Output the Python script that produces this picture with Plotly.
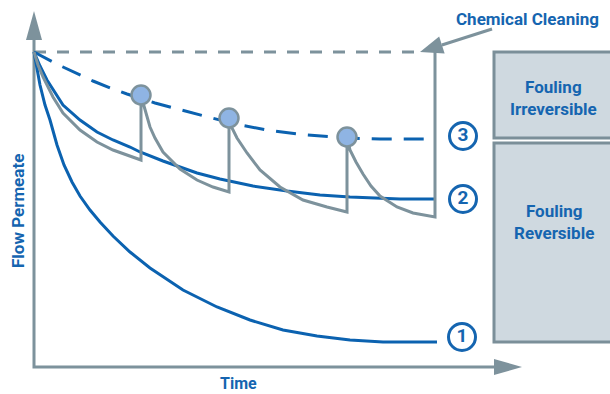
import plotly.graph_objects as go

# ---------------- data (time, flow) read from the schematic ----------------
# curve 1: constant flux without cleaning
t1 = [0, 6, 11, 16, 23, 30, 38, 46, 56, 66, 79, 96, 116, 149, 183, 216, 249, 283, 316, 349, 403]
f1 = [315, 282, 262, 247, 222, 202, 185, 171, 157, 145, 131, 115, 99, 77, 60, 47, 37, 31, 27, 25, 25]

# curve 2: envelope of backwash cycles
t2 = [0, 6, 13, 21, 29, 46, 63, 79, 96, 106, 129, 163, 186, 219, 253, 286, 316, 366, 401]
f2 = [315, 301, 287, 274, 262, 247, 235, 227, 220, 215, 206, 194, 188, 181, 176, 172, 170, 168, 168]

# curve 3 (dashed): irreversible fouling trend
t3 = [0, 9, 19, 29, 49, 59, 79, 93, 121, 143, 174, 206, 239, 273, 312, 346, 401]
f3 = [315, 310, 305, 300, 291, 286, 278, 273, 264, 258, 250, 242, 236, 232, 229, 228, 228]

# grey saw-tooth: filtration / backwash cycles, then chemical cleaning
tg = [0, 4, 9, 19, 29, 46, 63, 79, 107, 107, 110, 113, 116, 121, 129, 146, 163, 179, 195,
      195, 198, 203, 208, 213, 226, 246, 269, 293, 313, 313, 316, 322, 329, 337, 346, 363, 379, 401, 401]
fg = [315, 302, 290, 270, 254, 237, 225, 217, 207, 272, 261, 250, 240, 229, 215, 198, 187, 180, 175,
      249, 239, 229, 221, 214, 197, 180, 167, 160, 155, 230, 217, 205, 193, 181, 171, 160, 154, 150, 315]

# backwash peaks (circles)
t_peak = [107, 195, 313]
f_peak = [272, 249, 230]

# curve labels
label_text = ["1", "2", "3"]
label_t = [428, 429, 429]
label_f = [30, 168, 231]

initial_flow = 315
end_time = 401
box_texts = ["Fouling<br>Irreversible", "Fouling<br>Reversible"]
axis_titles = ["Time", "Flow Permeate"]
cleaning_text = "Chemical Cleaning"

# ---------------- styles ----------------
BLUE = "#0b62b0"
TXT = "#1565b0"
GREY = "#7d929c"
BOX_FILL = "#cfd9e0"
BOX_LINE = "#7b8f99"
FONT = "Roboto"
FS = 17

fig = go.Figure()

# axes (drawn as lines with arrowheads)
x_end, y_end = 460, 327
fig.add_trace(go.Scatter(x=[0, 0, x_end], y=[y_end, 0, 0], mode="lines",
                         line=dict(color=GREY, width=3), hoverinfo="skip"))
fig.add_shape(type="path", xref="x", yref="y",
              path=f"M {x_end},-8 L {x_end+28},0 L {x_end},8 Z",
              fillcolor=GREY, line=dict(width=0))
fig.add_shape(type="path", xref="x", yref="y",
              path=f"M -8,{y_end} L 0,{y_end+29} L 8,{y_end} Z",
              fillcolor=GREY, line=dict(width=0))

# grey dashed initial flow line
fig.add_trace(go.Scatter(x=[0, end_time - 12], y=[initial_flow, initial_flow], mode="lines",
                         line=dict(color=GREY, width=3, dash="12px,11px"), hoverinfo="skip"))

# curves
fig.add_trace(go.Scatter(x=t1, y=f1, mode="lines", line=dict(color=BLUE, width=3),
                         hoverinfo="skip"))
fig.add_trace(go.Scatter(x=t2, y=f2, mode="lines", line=dict(color=BLUE, width=3),
                         hoverinfo="skip"))
fig.add_trace(go.Scatter(x=t3, y=f3, mode="lines",
                         line=dict(color=BLUE, width=3, dash="20px,12px"),
                         hoverinfo="skip"))
fig.add_trace(go.Scatter(x=tg, y=fg, mode="lines", line=dict(color=GREY, width=3),
                         hoverinfo="skip"))
fig.add_trace(go.Scatter(x=t_peak, y=f_peak, mode="markers",
                         marker=dict(size=19, color="#8fb4e3", line=dict(color=GREY, width=2.5)),
                         hoverinfo="skip"))

# circled labels
fig.add_trace(go.Scatter(x=label_t, y=label_f, mode="markers+text", text=label_text,
                         textposition="middle center",
                         textfont=dict(family=FONT, size=19, color=TXT, weight="bold"),
                         marker=dict(size=27, color="white", line=dict(color=TXT, width=3)),
                         hoverinfo="skip"))

# fouling boxes
box_x0 = 460
fig.add_shape(type="rect", xref="x", yref="y", x0=box_x0, x1=box_x0 + 140,
              y0=f3[-1] + 1, y1=initial_flow,
              fillcolor=BOX_FILL, line=dict(color=BOX_LINE, width=3), layer="below")
fig.add_shape(type="rect", xref="x", yref="y", x0=box_x0, x1=box_x0 + 140,
              y0=f1[-1], y1=f3[-1] - 4,
              fillcolor=BOX_FILL, line=dict(color=BOX_LINE, width=3), layer="below")
fig.add_annotation(x=box_x0 + 59, y=269, text=box_texts[0],
                   showarrow=False, xref="x", yref="y",
                   font=dict(family=FONT, size=FS, color=TXT, weight="bold"))
fig.add_annotation(x=box_x0 + 60, y=145, text=box_texts[1],
                   showarrow=False, xref="x", yref="y",
                   font=dict(family=FONT, size=FS, color=TXT, weight="bold"))

# chemical cleaning arrow
ax0, ay0 = 458, 338
tipx, tipy = end_time - 15, initial_flow
dx, dy = tipx - ax0, tipy - ay0
L = (dx ** 2 + dy ** 2) ** 0.5
ux, uy = dx / L, dy / L
hl, hw = 23, 9
bx, by = tipx - ux * hl, tipy - uy * hl
fig.add_trace(go.Scatter(x=[ax0, bx], y=[ay0, by], mode="lines",
                         line=dict(color=GREY, width=3), hoverinfo="skip"))
fig.add_shape(type="path", xref="x", yref="y",
              path=f"M {tipx},{tipy} L {bx - uy*hw},{by + ux*hw} L {bx + uy*hw},{by - ux*hw} Z",
              fillcolor=GREY, line=dict(width=0))
fig.add_annotation(x=493, y=348, text=cleaning_text, showarrow=False, xref="x", yref="y",
                   font=dict(family=FONT, size=FS, color=TXT, weight="bold"))

# axis titles
fig.add_annotation(x=204, y=-16, text=axis_titles[0], showarrow=False, xref="x", yref="y",
                   borderpad=0,
                   font=dict(family=FONT, size=16, color=TXT, weight="bold"))
fig.add_annotation(x=-16, y=156, text=axis_titles[1], showarrow=False, xref="x", yref="y",
                   textangle=-90,
                   font=dict(family=FONT, size=FS, color=TXT, weight="bold"))

fig.update_layout(
    width=610, height=394, margin=dict(l=0, r=0, t=0, b=0),
    paper_bgcolor="white", plot_bgcolor="white", showlegend=False,
    xaxis=dict(visible=False, range=[-34, 576], fixedrange=True),
    yaxis=dict(visible=False, range=[-27, 367], fixedrange=True),
)

fig.write_html("out.html", config={"displayModeBar": False},
               post_script="document.body.style.margin='0';document.body.style.overflow='hidden';")
